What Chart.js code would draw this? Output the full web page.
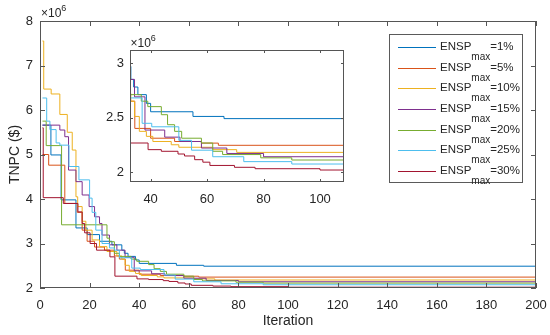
<!DOCTYPE html>
<html>
<head>
<meta charset="utf-8">
<script src="https://cdn.jsdelivr.net/npm/chart.js@4.4.1/dist/chart.umd.min.js"></script>
<style>
  html, body { margin: 0; padding: 0; background: #fff; }
  #wrap { position: relative; width: 550px; height: 335px; font-family: "Liberation Sans", Arial, sans-serif; color: #262626; }
  #main { position: absolute; left: 0; top: 0; }
  #inset { position: absolute; left: 100px; top: 30px; }
  #legend { position: absolute; left: 389px; top: 34px; width: 134px; height: 149px; box-sizing: border-box; border: 1px solid #5a5a5a; background: #fff; }
  .swatch { position: absolute; left: 8px; width: 38px; height: 1px; }
  .lab { position: absolute; left: 50px; font-size: 11.5px; line-height: 14px; height: 14px; white-space: nowrap; }
  .lab sub { font-size: 10px; vertical-align: baseline; position: relative; top: 10px; }
</style>
</head>
<body>
<div id="wrap">
  <canvas id="main" width="550" height="335"></canvas>
  <canvas id="inset" width="250" height="180"></canvas>
  <div id="legend"></div>
</div>
<script>
// series: iteration where a new best value starts, and TNPC value (x 10^6 $)
const iter1 = [1, 4.4, 8.5, 14.5, 19, 24, 29, 33, 34, 35.5, 38.5, 40, 55, 66, 200];
const tnpc1 = [5.66, 4.99, 3.98, 3.35, 3.2, 3.05, 2.97, 2.85, 2.78, 2.71, 2.63, 2.553, 2.51, 2.49, 2.48];

const iter5 = [1, 3.5, 10, 15, 17, 19, 22, 26, 30, 32, 34.4, 40, 48.5, 58, 64, 200];
const tnpc5 = [5.0, 4.76, 3.9, 3.7, 3.3, 3.05, 2.92, 2.85, 2.72, 2.65, 2.40, 2.31, 2.28, 2.265, 2.245, 2.235];

const iter10 = [1, 1.5, 4.5, 8, 11, 13, 14.5, 15.2, 17, 18.5, 21, 24, 27, 31, 33, 34.3, 36, 38.5, 40.8, 47.3, 50, 62, 70.5, 200];
const tnpc10 = [7.55, 6.47, 6.36, 5.9, 5.5, 5.1, 4.05, 3.83, 3.5, 3.3, 3.08, 2.93, 2.82, 2.72, 2.65, 2.51, 2.373, 2.327, 2.28, 2.25, 2.227, 2.205, 2.18, 2.17];

const iter15 = [1, 8, 10, 11.5, 14.5, 17, 19.8, 22, 24, 25, 28, 31, 34.3, 38, 45, 50.4, 58, 67, 80, 200];
const tnpc15 = [5.66, 5.55, 5.4, 4.65, 4.39, 4.09, 3.83, 3.6, 3.45, 3.19, 2.97, 2.85, 2.69, 2.385, 2.32, 2.28, 2.22, 2.17, 2.14, 2.125];

const iter20 = [1, 2.5, 8.7, 27, 28, 30, 32, 36.7, 39, 43.8, 46, 48.5, 51, 58, 62, 65.5, 79, 90, 200];
const tnpc20 = [5.75, 5.2, 3.42, 3.12, 3.04, 2.78, 2.71, 2.65, 2.60, 2.526, 2.434, 2.373, 2.31, 2.266, 2.19, 2.16, 2.13, 2.11, 2.1];

const iter25 = [1, 2.7, 4, 6.5, 8, 11.7, 15.7, 20, 21, 22.5, 25, 28, 30, 32, 37, 40.4, 50, 54.5, 62, 73, 90, 200];
const tnpc25 = [6.27, 5.75, 5.56, 5.26, 5.21, 4.73, 4.43, 4.02, 3.7, 3.3, 3.0, 2.9, 2.85, 2.68, 2.447, 2.415, 2.29, 2.20, 2.14, 2.095, 2.073, 2.07];

const iter30 = [1, 1.3, 9.4, 15.3, 17, 18, 20.2, 22.8, 28.2, 30.2, 39.1, 43.8, 49.7, 52, 55.6, 58.5, 61, 69.7, 77, 100, 200];
const tnpc30 = [5.6, 4.03, 3.90, 3.71, 3.45, 3.24, 3.0, 2.85, 2.70, 2.266, 2.205, 2.19, 2.165, 2.147, 2.113, 2.09, 2.06, 2.043, 2.03, 2.018, 2.015];

const legendPct = ['1%', '5%', '10%', '15%', '20%', '25%', '30%'];
const colors = ['#0072BD', '#D95319', '#EDB120', '#7E2F8E', '#77AC30', '#4DBEEE', '#A2142F'];

const mainXTicks = [0, 20, 40, 60, 80, 100, 120, 140, 160, 180, 200];
const mainYTicks = [2, 3, 4, 5, 6, 7, 8];
const insetXTicks = [40, 60, 80, 100];
const insetYTicks = [2, 2.5, 3];

const allIters = [iter1, iter5, iter10, iter15, iter20, iter25, iter30];
const allTnpc = [tnpc1, tnpc5, tnpc10, tnpc15, tnpc20, tnpc25, tnpc30];

const FONT = '"Liberation Sans", Arial, sans-serif';
const TXT = '#262626';

function makeDatasets() {
    return allIters.map((its, i) => ({
        label: 'ENSPmax=' + legendPct[i],
        data: its.map((x, k) => ({ x: x, y: allTnpc[i][k] })),
        borderColor: colors[i],
        borderWidth: 1,
        pointRadius: 0,
        stepped: true,
        fill: false,
        order: 6 - i
    }));
}

// box, inward tick marks, x10^6 label
const matlabAxes = {
    id: 'matlabAxes',
    beforeDatasetsDraw(chart, args, opts) {
        if (!opts.whiteBg) return;
        const a = chart.chartArea;
        const ctx = chart.ctx;
        ctx.save();
        ctx.fillStyle = '#fff';
        ctx.fillRect(a.left, a.top, a.right - a.left, a.bottom - a.top);
        ctx.restore();
    },
    afterDatasetsDraw(chart, args, opts) {
        const { ctx, chartArea: a, scales } = chart;
        const x = scales.x, y = scales.y;
        const len = opts.len;
        ctx.save();
        ctx.strokeStyle = '#555';
        ctx.lineWidth = 1;
        ctx.beginPath();
        x.ticks.forEach(t => {
            const px = Math.round(x.getPixelForValue(t.value)) + 0.5;
            ctx.moveTo(px, a.bottom); ctx.lineTo(px, a.bottom - len);
            ctx.moveTo(px, a.top); ctx.lineTo(px, a.top + len);
        });
        y.ticks.forEach(t => {
            const py = Math.round(y.getPixelForValue(t.value)) + 0.5;
            ctx.moveTo(a.left, py); ctx.lineTo(a.left + len, py);
            ctx.moveTo(a.right, py); ctx.lineTo(a.right - len, py);
        });
        ctx.stroke();
        ctx.strokeRect(Math.round(a.left) + 0.5, Math.round(a.top) + 0.5,
            Math.round(a.right - a.left) - 1, Math.round(a.bottom - a.top) - 1);

        ctx.fillStyle = TXT;
        ctx.textBaseline = 'alphabetic';
        ctx.textAlign = 'left';
        ctx.font = '12px ' + FONT;
        ctx.fillText('\u00d710', opts.expX, opts.expY);
        const w = ctx.measureText('\u00d710').width;
        ctx.font = '9px ' + FONT;
        ctx.fillText('6', opts.expX + w, opts.expY - 6);
        ctx.restore();
    }
};

function fixedTicks(values) {
    return scale => { scale.ticks = values.map(v => ({ value: v })); };
}

function fitX(h) {
    return s => { s.height = h; s.paddingLeft = 0; s.paddingRight = 0; };
}
function fitY(w) {
    return s => { s.width = w; s.paddingTop = 0; s.paddingBottom = 0; };
}

const mainChart = new Chart(document.getElementById('main'), {
    type: 'line',
    data: { datasets: makeDatasets() },
    options: {
        responsive: false,
        animation: false,
        events: [],
        layout: { padding: { left: 0, top: 21, right: 14, bottom: 0 } },
        plugins: {
            legend: { display: false },
            tooltip: { enabled: false },
            matlabAxes: { len: 5, expX: 41, expY: 16.5 }
        },
        scales: {
            x: {
                type: 'linear', min: 0, max: 200,
                afterBuildTicks: fixedTicks(mainXTicks),
                afterFit: fitX(47),
                grid: { display: false, drawTicks: false }, border: { display: false },
                ticks: { color: TXT, font: { family: FONT, size: 13 }, padding: 10, maxRotation: 0, callback: v => String(v) },
                title: { display: true, text: 'Iteration', color: TXT, font: { family: FONT, size: 14 }, padding: { top: 0, bottom: 5 } }
            },
            y: {
                type: 'linear', min: 2, max: 8,
                afterBuildTicks: fixedTicks(mainYTicks),
                afterFit: fitY(40),
                grid: { display: false, drawTicks: false }, border: { display: false },
                ticks: { color: TXT, font: { family: FONT, size: 13 }, padding: 7, callback: v => String(v) },
                title: { display: true, text: 'TNPC ($)', color: TXT, font: { family: FONT, size: 14 }, padding: { top: 6.6, bottom: 0 } }
            }
        }
    },
    plugins: [matlabAxes]
});

const insetChart = new Chart(document.getElementById('inset'), {
    type: 'line',
    data: { datasets: makeDatasets() },
    options: {
        responsive: false,
        animation: false,
        events: [],
        layout: { padding: { left: 0, top: 20, right: 6, bottom: 0 } },
        plugins: {
            legend: { display: false },
            tooltip: { enabled: false },
            matlabAxes: { len: 3, expX: 30.5, expY: 16.5, whiteBg: true }
        },
        scales: {
            x: {
                type: 'linear', min: 32.7, max: 108.5,
                afterBuildTicks: fixedTicks(insetXTicks),
                afterFit: fitX(28),
                grid: { display: false, drawTicks: false }, border: { display: false },
                ticks: { color: TXT, font: { family: FONT, size: 13 }, padding: 10, maxRotation: 0, callback: v => String(v) }
            },
            y: {
                type: 'linear', min: 1.908, max: 3.12,
                afterBuildTicks: fixedTicks(insetYTicks),
                afterFit: fitY(30),
                grid: { display: false, drawTicks: false }, border: { display: false },
                ticks: { color: TXT, font: { family: FONT, size: 13 }, padding: 6, callback: v => String(v) }
            }
        }
    },
    plugins: [matlabAxes]
});

// legend with subscript
const legendBox = document.getElementById('legend');
legendPct.forEach((p, i) => {
    const lineY = Math.round(12 + i * 20.67);
    const sw = document.createElement('div');
    sw.className = 'swatch';
    sw.style.top = lineY + 'px';
    sw.style.background = colors[i];
    legendBox.appendChild(sw);
    const lab = document.createElement('div');
    lab.className = 'lab';
    lab.style.top = (lineY + 3.3 - 11) + 'px';
    lab.innerHTML = 'ENSP<sub>max</sub>=' + p;
    legendBox.appendChild(lab);
});
</script>
</body>
</html>
